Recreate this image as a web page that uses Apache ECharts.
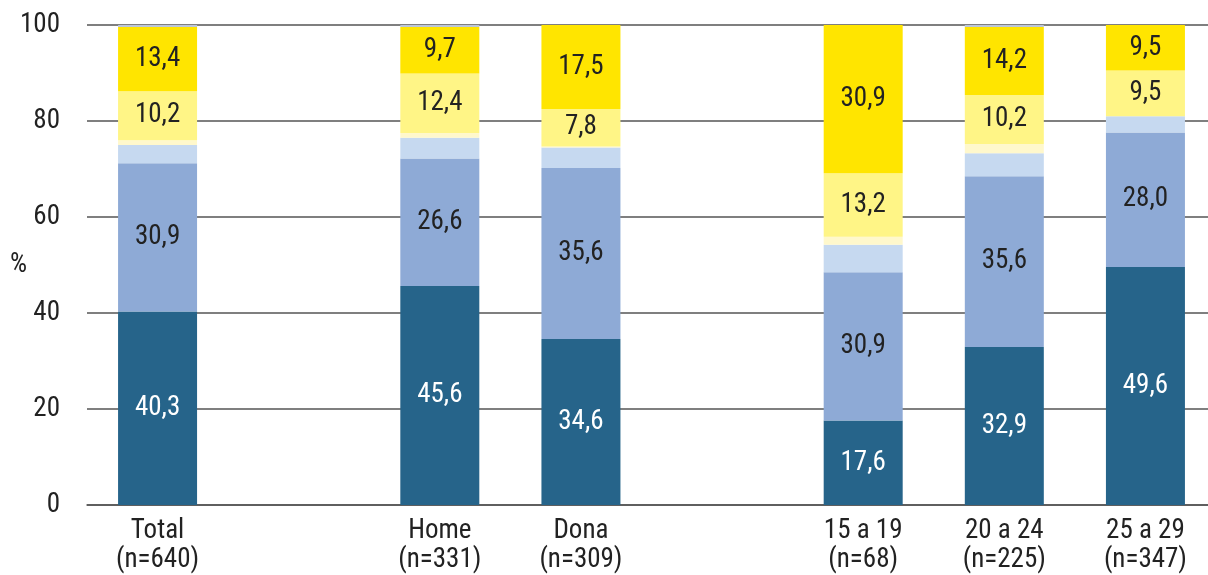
<!DOCTYPE html>
<html>
<head>
<meta charset="utf-8">
<script src="https://cdn.jsdelivr.net/npm/echarts@6/dist/echarts.min.js"></script>
<style>
html,body{margin:0;padding:0;background:#fff;overflow:hidden;width:1208px;height:575px;}
#chart{width:1216px;height:575px;}
</style>
</head>
<body>
<div id="chart"></div>
<script>
const categories = ['Total\n(n=640)', '', 'Home\n(n=331)', 'Dona\n(n=309)', '', '15 a 19\n(n=68)', '20 a 24\n(n=225)', '25 a 29\n(n=347)'];
const yTicks = [0, 20, 40, 60, 80, 100];
const darkBlue  = [40.3, null, 45.6, 34.6, null, 17.6, 32.9, 49.6];
const midBlue   = [30.9, null, 26.6, 35.6, null, 30.9, 35.6, 28.0];
const lightBlue = [3.8,  null, 4.3,  4.3,  null, 5.7,  4.8,  3.4];
const cream     = [1.0,  null, 1.0,  0.2,  null, 1.7,  1.9,  0.0];
const paleYellow= [10.2, null, 12.4, 7.8,  null, 13.2, 10.2, 9.5];
const yellow    = [13.4, null, 9.7,  17.5, null, 30.9, 14.2, 9.5];
const greyTop   = [0.4,  null, 0.4,  0.0,  null, 0.0,  0.4,  0.0];

const FONT = "'Liberation Sans Narrow', 'Arial Narrow', 'Roboto Condensed', sans-serif";
const fmt = p => (p.value == null || p.value === 0) ? '' : p.value.toFixed(1).replace('.', ',');

function mk(name, data, color, label) {
  return {
    name, type: 'bar', stack: 'all', data, barWidth: 79,
    itemStyle: { color },
    label: label ? {
      show: true, position: 'inside', formatter: fmt,
      color: label, fontFamily: FONT, fontSize: 27
    } : { show: false },
    emphasis: { disabled: true },
    animation: false
  };
}

const chart = echarts.init(document.getElementById('chart'));
chart.setOption({
  animation: false,
  grid: { left: 87, top: 25, right: 0, bottom: 70, containLabel: false },
  xAxis: {
    type: 'category', data: categories,
    axisTick: { show: false },
    axisLine: { show: true, lineStyle: { color: '#555', width: 1.5 } },
    axisLabel: { interval: 0, fontFamily: FONT, fontSize: 27, color: '#222', lineHeight: 29, margin: 12 }
  },
  yAxis: {
    type: 'value', min: 0, max: 100, interval: 20,
    axisLine: { show: false }, axisTick: { show: false },
    splitLine: { show: true, lineStyle: { color: '#555', width: 1.5 } },
    axisLabel: { fontFamily: FONT, fontSize: 27, color: '#222', margin: 27,
      formatter: v => yTicks.includes(v) ? String(v) : '' }
  },
  graphic: [{
    type: 'text', left: 10, top: 252,
    style: { text: '%', fontFamily: FONT, fontSize: 27, fill: '#222' }
  }],
  series: [
    mk('d', darkBlue, '#26648a', '#ffffff'),
    mk('m', midBlue, '#8eaad6', '#222222'),
    mk('l', lightBlue, '#c6d9f0', null),
    mk('c', cream, '#fff8cc', null),
    mk('p', paleYellow, '#fff586', '#222222'),
    mk('y', yellow, '#ffe500', '#222222'),
    mk('g', greyTop, '#bcc6d8', null)
  ]
});
</script>
</body>
</html>
